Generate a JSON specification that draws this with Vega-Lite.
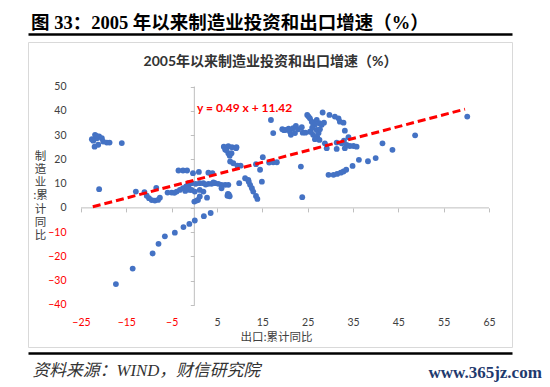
{
"$schema":"https://vega.github.io/schema/vega-lite/v6.json",
"width":484,"height":305,
"autosize":{"type":"none"},
"padding":{"left":28,"top":42,"right":38,"bottom":40},
"background":"white",
"config":{"view":{"stroke":"#d9d9d9","strokeWidth":1},"font":"Lato, Noto Sans CJK SC"},
"title":{"text":"图 33：2005 年以来制造业投资和出口增速（%）","anchor":"start","frame":"group","font":"Liberation Serif, Noto Sans CJK SC","fontSize":18.5,"fontWeight":"bold","color":"#000000","offset":1.5,"dx":3},
"datasets":{
"points":[
{"x":-22.3,"y":27.7},{"x":-21.9,"y":30.1},{"x":-21.5,"y":28.7},{"x":-21.0,"y":29.4},{"x":-20.4,"y":28.7},{"x":-21.2,"y":26.0},{"x":-20.1,"y":27.3},{"x":-19.3,"y":26.9},{"x":-18.7,"y":26.9},{"x":-22.0,"y":25.2},{"x":-16.0,"y":26.7},{"x":-21.6,"y":29.6},{"x":-22.6,"y":28.3},
{"x":-21.0,"y":7.7},
{"x":-12.9,"y":6.7},{"x":-11.0,"y":6.5},{"x":-10.5,"y":5.0},{"x":-10.0,"y":4.0},{"x":-9.4,"y":3.2},{"x":-8.7,"y":3.0},{"x":-8.0,"y":3.3},{"x":-7.6,"y":4.2},{"x":-8.4,"y":8.2},
{"x":-5.9,"y":6.3},{"x":-5.0,"y":6.3},{"x":-4.4,"y":6.2},{"x":-3.9,"y":6.7},{"x":-3.2,"y":7.4},{"x":-2.5,"y":8.1},{"x":-1.8,"y":8.8},{"x":-1.2,"y":9.5},{"x":-1.0,"y":7.4},{"x":-0.6,"y":7.4},{"x":-1.3,"y":10.2},{"x":-0.6,"y":10.2},{"x":-2.0,"y":7.0},{"x":-1.5,"y":8.5},
{"x":-3.5,"y":15.4},{"x":-2.5,"y":15.4},{"x":-1.6,"y":15.4},{"x":-0.3,"y":14.3},{"x":1.0,"y":14.8},
{"x":0.1,"y":6.7},{"x":0.0,"y":2.6},{"x":0.5,"y":3.0},{"x":0.8,"y":3.3},{"x":1.2,"y":4.7},{"x":2.8,"y":4.2},{"x":1.2,"y":7.4},{"x":2.0,"y":6.7},
{"x":0.3,"y":9.9},{"x":1.2,"y":10.2},{"x":2.0,"y":10.2},{"x":3.1,"y":9.9},{"x":3.8,"y":9.9},{"x":4.6,"y":10.2},{"x":5.3,"y":9.9},{"x":6.0,"y":9.5},{"x":6.8,"y":9.5},{"x":7.5,"y":9.5},{"x":6.0,"y":8.1},{"x":2.5,"y":9.6},{"x":4.2,"y":10.5},
{"x":3.1,"y":14.5},{"x":4.0,"y":14.3},
{"x":6.5,"y":25.2},{"x":7.1,"y":24.6},{"x":7.5,"y":25.4},{"x":8.3,"y":25.0},{"x":9.3,"y":25.0},{"x":7.5,"y":22.5},{"x":8.2,"y":22.5},{"x":7.0,"y":23.8},{"x":6.8,"y":24.0},{"x":7.8,"y":21.5},{"x":9.2,"y":24.6},
{"x":7.9,"y":19.1},{"x":8.6,"y":18.4},{"x":9.5,"y":17.4},{"x":10.2,"y":17.4},
{"x":7.3,"y":5.0},{"x":7.6,"y":5.6},{"x":7.8,"y":4.8},{"x":7.4,"y":5.8},
{"x":9.9,"y":10.2},{"x":11.2,"y":12.2},{"x":11.9,"y":11.5},{"x":12.3,"y":9.5},{"x":12.7,"y":8.1},{"x":13.0,"y":6.7},{"x":13.6,"y":4.9},{"x":13.9,"y":3.7},{"x":14.9,"y":10.8},{"x":12.0,"y":10.8},
{"x":13.6,"y":18.0},{"x":15.1,"y":20.9},{"x":16.5,"y":18.7},{"x":17.4,"y":18.8},{"x":18.2,"y":18.8},{"x":14.5,"y":15.7},
{"x":16.9,"y":36.2},{"x":17.4,"y":30.8},
{"x":19.4,"y":32.4},{"x":20.2,"y":32.1},{"x":21.1,"y":31.4},{"x":21.8,"y":32.8},{"x":22.4,"y":33.8},{"x":22.9,"y":32.4},{"x":23.7,"y":33.2},{"x":22.2,"y":30.8},{"x":21.3,"y":30.1},{"x":23.9,"y":31.0},{"x":19.8,"y":32.0},{"x":20.8,"y":32.6},
{"x":24.9,"y":38.3},{"x":25.5,"y":36.9},{"x":25.9,"y":35.5},{"x":26.2,"y":34.9},{"x":27.0,"y":36.2},{"x":26.6,"y":34.2},{"x":27.6,"y":34.9},{"x":28.1,"y":34.2},{"x":28.6,"y":35.1},{"x":28.3,"y":39.3},{"x":29.8,"y":38.3},{"x":31.0,"y":37.6},{"x":31.8,"y":36.9},{"x":32.1,"y":35.5},{"x":32.9,"y":35.1},{"x":25.7,"y":31.4},{"x":27.0,"y":32.1},{"x":27.4,"y":30.8},{"x":27.7,"y":32.4},{"x":26.2,"y":30.1},{"x":27.1,"y":29.1},{"x":26.6,"y":28.3},{"x":27.6,"y":28.0},{"x":25.5,"y":31.4},{"x":25.2,"y":37.6},{"x":26.0,"y":33.0},{"x":24.5,"y":31.0},
{"x":28.8,"y":26.6},{"x":29.2,"y":24.6},{"x":31.4,"y":26.9},{"x":31.4,"y":24.3},{"x":32.5,"y":26.6},{"x":33.0,"y":27.7},{"x":33.6,"y":25.9},{"x":34.0,"y":29.1},{"x":34.3,"y":25.5},{"x":35.1,"y":25.5},{"x":35.8,"y":25.2},{"x":33.2,"y":24.6},{"x":33.2,"y":31.8},
{"x":41.5,"y":26.6},{"x":43.7,"y":23.9},{"x":48.7,"y":29.9},{"x":60.2,"y":37.6},
{"x":23.5,"y":17.0},{"x":23.8,"y":4.4},
{"x":29.6,"y":13.6},{"x":30.7,"y":13.6},{"x":31.5,"y":14.0},{"x":32.3,"y":14.5},{"x":32.9,"y":15.0},{"x":33.5,"y":15.7},{"x":34.9,"y":17.3},{"x":36.3,"y":19.8},{"x":38.3,"y":19.2},{"x":40.0,"y":20.5},
{"x":-17.3,"y":-31.4},{"x":-13.6,"y":-25.0},{"x":-9.2,"y":-18.8},{"x":-7.9,"y":-14.8},{"x":-6.5,"y":-11.7},{"x":-4.3,"y":-10.2},{"x":-2.4,"y":-7.9},{"x":-1.1,"y":-6.6},{"x":0.1,"y":-5.2},{"x":2.1,"y":-3.4},{"x":3.6,"y":-2.1}
],
"trend":[{"x":-22.4,"y":0.44},{"x":59.7,"y":40.67}]
},
"resolve":{"axis":{"x":"independent","y":"independent"}},
"layer":[
{"data":{"values":[{}]},
 "mark":{"type":"rule","color":"#bfbfbf","strokeWidth":1},
 "encoding":{
  "x":{"datum":-25,"type":"quantitative","scale":{"domain":[-36.69,70.07],"nice":false,"zero":false},
   "axis":{"orient":"bottom","offset":6,"domain":true,"domainColor":"#000000","domainWidth":2.5,"ticks":false,"labels":false,"grid":false,
    "title":"资料来源：WIND，财信研究院","titleAlign":"left","titleBaseline":"middle","titleX":4,"titleY":17,"titleFont":"Liberation Serif, Noto Sans CJK SC","titleFontSize":16.8,"titleFontStyle":"italic","titleFontWeight":"normal","titleColor":"#333333"}},
  "x2":{"datum":65},
  "y":{"datum":0,"type":"quantitative","scale":{"domain":[-57.3,68.33],"nice":false,"zero":false},"axis":null}
 }},
{"data":{"values":[{}]},
 "mark":{"type":"rule","color":"#bfbfbf","strokeWidth":1},
 "encoding":{
  "x":{"datum":0,"type":"quantitative","scale":{"domain":[-36.69,70.07],"nice":false,"zero":false},"axis":null},
  "y":{"datum":-40,"type":"quantitative","scale":{"domain":[-57.3,68.33],"nice":false,"zero":false},"axis":null},
  "y2":{"datum":50}
 }},
{"data":{"name":"points"},
 "mark":{"type":"circle","color":"#4472c4","opacity":1,"size":34},
 "encoding":{
  "x":{"field":"x","type":"quantitative","scale":{"domain":[-36.69,70.07],"nice":false,"zero":false},
   "axis":{"orient":"bottom","offset":-139.1,"values":[-25,-15,-5,5,15,25,35,45,55,65],"domain":false,"grid":false,"ticks":true,"tickSize":4,"tickColor":"#bfbfbf","tickWidth":1,
    "labelPadding":106,"labelFont":"Lato","labelFontSize":10.5,"labelFlush":false,"labelOverlap":false,
    "labelColor":{"condition":{"test":"datum.value < 0","value":"#ff0000"},"value":"#404040"},
    "title":"出口:累计同比","titleFont":"Noto Sans CJK SC","titleFontSize":11.5,"titleFontWeight":"normal","titleColor":"#404040","titleX":248,"titleY":130,"titleBaseline":"middle","titleAlign":"center"}},
  "y":{"field":"y","type":"quantitative","scale":{"domain":[-57.3,68.33],"nice":false,"zero":false},
   "axis":{"orient":"left","offset":-166.3,"values":[-40,-30,-20,-10,0,10,20,30,40,50],"domain":false,"grid":false,"ticks":true,"tickSize":4,"tickColor":"#bfbfbf","tickWidth":1,
    "labelPadding":124.3,"labelFont":"Lato","labelFontSize":10.5,"labelFlush":false,"labelOverlap":false,
    "labelColor":{"condition":{"test":"datum.value < 0","value":"#ff0000"},"value":"#404040"},
    "title":["制","造","业",":累","计","同","比"],"titleAngle":0,"titleX":-154.3,"titleY":114,"titleBaseline":"middle","titleAlign":"center","titleLineHeight":13.3,"titleFont":"Noto Sans CJK SC","titleFontSize":11.5,"titleFontWeight":"normal","titleColor":"#404040"}}
 }},
{"data":{"name":"trend"},
 "mark":{"type":"line","color":"#ff0000","strokeWidth":3,"strokeDash":[8,4]},
 "encoding":{
  "x":{"field":"x","type":"quantitative","scale":{"domain":[-36.69,70.07],"nice":false,"zero":false},
   "axis":{"orient":"top","offset":8,"domain":true,"domainColor":"#000000","domainWidth":2.5,"ticks":false,"labels":false,"grid":false,
    "title":"2005年以来制造业投资和出口增速（%）","titleFont":"Lato, Noto Sans CJK SC","titleFontSize":14,"titleFontWeight":"bold","titleColor":"#333333","titleX":242,"titleY":27,"titleBaseline":"middle","titleAlign":"center"}},
  "y":{"field":"y","type":"quantitative","scale":{"domain":[-57.3,68.33],"nice":false,"zero":false},
   "axis":{"orient":"right","domain":false,"ticks":false,"labels":false,"grid":false,
    "title":"www.365jz.com","titleAngle":0,"titleX":-84,"titleY":330,"titleAlign":"left","titleBaseline":"middle","titleFont":"Liberation Serif","titleFontSize":17,"titleFontWeight":"bold","titleColor":"#1f3a6e"}}
 }},
{"data":{"values":[{}]},
 "mark":{"type":"text","color":"#ff0000","font":"Lato","fontSize":12,"fontWeight":"bold","align":"left","baseline":"middle"},
 "encoding":{
  "x":{"datum":0.6,"type":"quantitative","scale":{"domain":[-36.69,70.07],"nice":false,"zero":false},"axis":null},
  "y":{"datum":41,"type":"quantitative","scale":{"domain":[-57.3,68.33],"nice":false,"zero":false},"axis":null},
  "text":{"value":"y = 0.49 x + 11.42"}
 }}
]
}
